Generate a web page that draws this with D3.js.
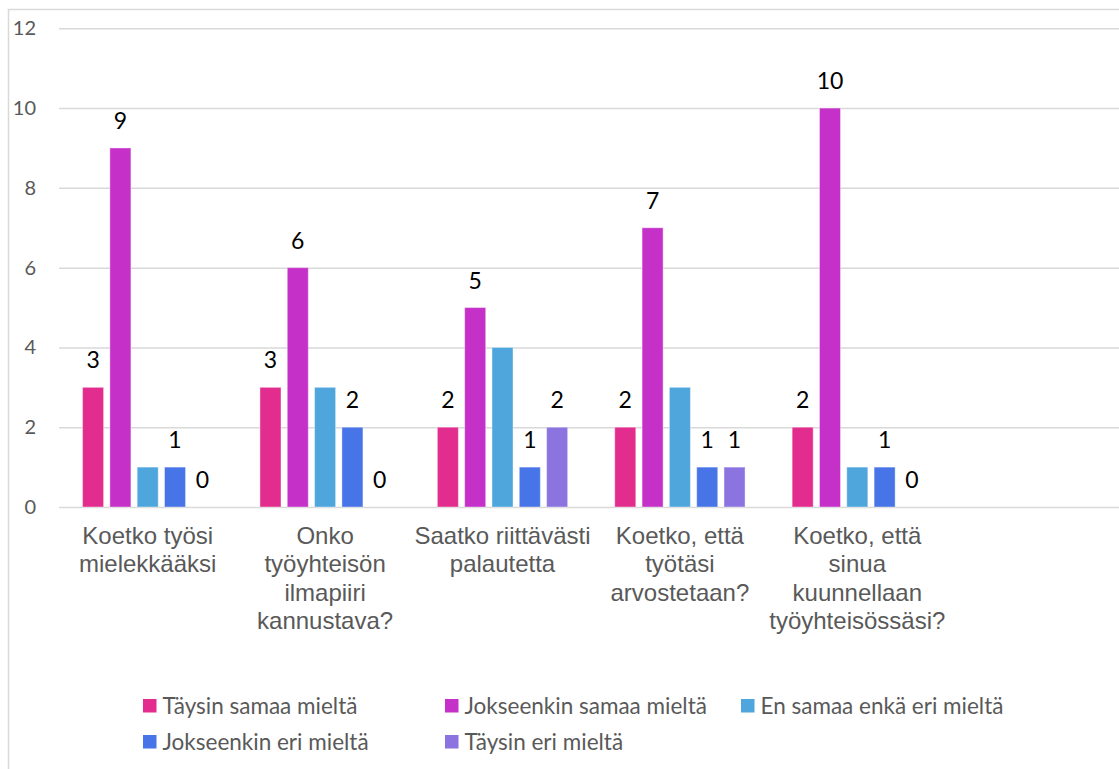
<head>
  <meta charset="utf-8">
  <script src="https://d3js.org/d3.v7.min.js"></script>
</head>
<style>
body{ margin:0; background:#fff; }
.tickTxt{ font: 20px Lato, sans-serif; fill:#595959; }
.catTxt{ font: 24px "Liberation Sans", Arial, sans-serif; fill:#595959; }
.valTxt{ font: 23px Lato, sans-serif; fill:#000; }
.legTxt{ font: 22.5px Lato, sans-serif; fill:#595959; }
</style>
<body>
  <svg id="svg_bars"></svg>
</body>
<script>
  var w = 1119;
  var h = 769;
  var margin = {top: 28.3, left: 59, bottom: 507};

// chart data
  var categories = ["Koetko työsi mielekkääksi", "Onko työyhteisön ilmapiiri kannustava?",
                    "Saatko riittävästi palautetta", "Koetko, että työtäsi arvostetaan?",
                    "Koetko, että sinua kuunnellaan työyhteisössäsi?"];
  var seriesNames = ["Täysin samaa mieltä", "Jokseenkin samaa mieltä", "En samaa enkä eri mieltä",
                     "Jokseenkin eri mieltä", "Täysin eri mieltä"];
  var seriesColors = ["#e32d8e", "#c530c8", "#4ea6dc", "#4774e6", "#8b73e0"];
  var seriesLabels = [true, true, false, true, true]; // the "En samaa..." series has no data labels
  var taysinSamaa = [3, 3, 2, 2, 2];
  var jokseenkinSamaa = [9, 6, 5, 7, 10];
  var enSamaaEnkaEri = [1, 3, 4, 3, 1];
  var jokseenkinEri = [1, 2, 1, 1, 1];
  var taysinEri = [0, 0, 2, 1, 0];
  var yTicks = [0, 2, 4, 6, 8, 10, 12];

  var allSeries = [taysinSamaa, jokseenkinSamaa, enSamaaEnkaEri, jokseenkinEri, taysinEri];

  var data_bars = [];
  categories.forEach(function(c, ci){
    allSeries.forEach(function(s, si){
      data_bars.push({cat: c, series: seriesNames[si], value: s[ci], color: seriesColors[si], label: seriesLabels[si]});
    });
  });

  var catStep = 177.4;
  var x0 = d3.scaleBand()
      .domain(categories)
      .range([margin.left, margin.left + catStep * categories.length])
      .paddingInner(0.2655)
      .paddingOuter(0.2655 / 2);
  var x1 = d3.scaleBand()
      .domain(seriesNames)
      .range([0, x0.bandwidth()])
      .paddingInner(0.23);
  var y = d3.scaleLinear()
      .domain([0, 12])
      .range([margin.bottom, margin.top]);

  var svg = d3.select("svg#svg_bars")
      .attr("width", w)
      .attr("height", h);

  // outer chart border (cropped at right and bottom)
  svg.append("rect")
      .attr("x", 8.5).attr("y", 9.5)
      .attr("width", w + 20).attr("height", h + 20)
      .attr("fill", "none")
      .attr("stroke", "#d9d9d9")
      .attr("stroke-width", 1.5);

  // gridlines + y tick labels
  var yAxis = d3.axisLeft(y)
      .tickValues(yTicks)
      .tickSize(-(w - margin.left))
      .tickPadding(23);
  var gy = svg.append("g")
      .attr("transform", "translate(" + margin.left + ",0)")
      .call(yAxis);
  gy.select(".domain").remove();
  gy.selectAll("line").attr("stroke", "#d9d9d9").attr("stroke-width", 1.5);
  gy.selectAll("text").attr("class", "tickTxt").attr("font-size", null).attr("font-family", null);

  var bars = svg.selectAll("rect.bar")
      .data(data_bars)
      .enter().append("rect")
      .attr("class", "bar")
      .attr("x", function(d){ return x0(d.cat) + x1(d.series); })
      .attr("width", x1.bandwidth())
      .attr("y", function(d){ return y(d.value); })
      .attr("height", function(d){ return y(0) - y(d.value); })
      .attr("fill", function(d){ return d.color; })
      .attr("stroke", "#ffffff")
      .attr("stroke-opacity", 0.4)
      .attr("stroke-width", 1);

  svg.selectAll("text.valTxt")
      .data(data_bars.filter(function(d){ return d.label; }))
      .enter().append("text")
      .attr("class", "valTxt")
      .attr("text-anchor", "middle")
      .attr("x", function(d){ return x0(d.cat) + x1(d.series) + x1.bandwidth() / 2; })
      .attr("y", function(d){ return y(d.value) - 19; })
      .text(function(d){ return d.value; });

  // category labels, wrapped to the category width
  var catG = svg.selectAll("text.catTxt")
      .data(categories)
      .enter().append("text")
      .attr("class", "catTxt")
      .attr("text-anchor", "middle")
      .attr("x", function(d){ return x0(d) + x0.bandwidth() / 2; })
      .attr("y", 544);
  catG.each(function(d){ wrapText(d3.select(this), d, catStep + 3, 28.3); });

  function wrapText(txt, str, maxW, lineH){
    var words = str.split(" ");
    var cx = txt.attr("x");
    var line = [];
    var tspan = txt.append("tspan").attr("x", cx).attr("dy", 0);
    words.forEach(function(word){
      line.push(word);
      tspan.text(line.join(" "));
      if(tspan.node().getComputedTextLength() > maxW && line.length > 1){
        line.pop();
        tspan.text(line.join(" "));
        line = [word];
        tspan = txt.append("tspan").attr("x", cx).attr("dy", lineH).text(word);
      }
    });
  }

  // legend
  var legendCols = [143, 445, 741];
  var legendRows = [706, 742];
  var leg = svg.selectAll("g.leg")
      .data(seriesNames)
      .enter().append("g")
      .attr("class", "leg")
      .attr("transform", function(d, i){
        return "translate(" + legendCols[i % 3] + "," + legendRows[Math.floor(i / 3)] + ")";
      });
  leg.append("rect")
      .attr("x", 0).attr("y", -7)
      .attr("width", 13.5).attr("height", 13.5)
      .attr("fill", function(d, i){ return seriesColors[i]; });
  leg.append("text")
      .attr("class", "legTxt")
      .attr("x", 19.5)
      .attr("dy", "0.35em")
      .text(function(d){ return d; });
</script>
